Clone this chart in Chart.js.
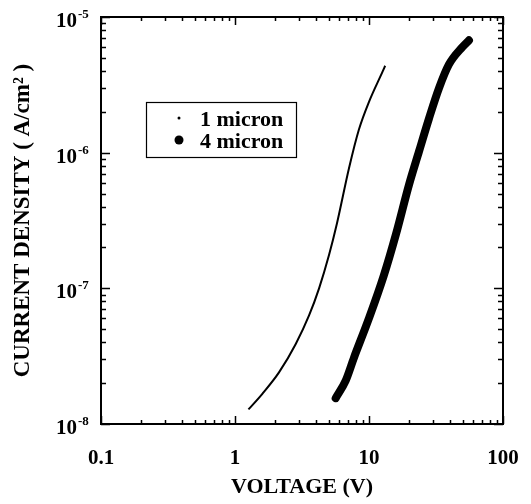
<!DOCTYPE html>
<html>
<head>
<meta charset="utf-8">
<script src="https://cdn.jsdelivr.net/npm/chart.js@4.4.1/dist/chart.umd.min.js"></script>
<style>
html,body{margin:0;padding:0;background:#fff;}
#wrap{width:531px;height:504px;}
</style>
</head>
<body>
<div id="wrap"><canvas id="ivChart" width="531" height="504"></canvas></div>
<script>
// ===== Data =====
const seriesNames = ['1 micron', '4 micron'];
const volt1 = [1.26, 1.6, 2.13, 2.84, 3.57, 4.24, 5.03, 5.77, 7.09, 8.41, 10.0, 12.6, 13.2];
const curr1 = [1.28e-8, 1.67e-8, 2.40e-8, 3.89e-8, 6.31e-8, 1.00e-7, 1.76e-7, 3.02e-7, 7.67e-7, 1.48e-6, 2.37e-6, 3.94e-6, 4.37e-6];
const volt4 = [5.64, 6.7, 7.73, 10.0, 12.9, 15.9, 19.9, 23.6, 28.0, 33.3, 39.5, 49.7, 55.7];
const curr4 = [1.55e-8, 2.09e-8, 3.09e-8, 6.03e-8, 1.245e-7, 2.51e-7, 5.82e-7, 1.02e-6, 1.78e-6, 2.99e-6, 4.47e-6, 6.0e-6, 6.73e-6];
const xTickVals = [0.1, 1, 10, 100];
const xTickLabels = ['0.1', '1', '10', '100'];
const yTickExp = [-8, -7, -6, -5];

const serif = "'Liberation Serif', 'Times New Roman', serif";

// ===== Frame, inward ticks, tick labels, legend =====
const decorPlugin = {
    id: 'decor',
    afterDraw(chart) {
        const c = chart.ctx;
        const a = chart.chartArea;
        const xs = chart.scales.x, ys = chart.scales.y;
        c.save();
        c.strokeStyle = '#000';
        c.fillStyle = '#000';

        // frame
        c.lineWidth = 2;
        c.strokeRect(a.left, a.top, a.right - a.left, a.bottom - a.top);

        // ticks on all four sides
        c.lineWidth = 1.5;
        c.beginPath();
        for (let k = -1; k <= 2; k++) {
            for (let m = 1; m <= 9; m++) {
                let v = m * Math.pow(10, k);
                if (v > 100.0001) continue;
                let px = Math.round(xs.getPixelForValue(v)) + 0.5;
                let len = m === 1 ? 8 : 4;
                c.moveTo(px, a.bottom); c.lineTo(px, a.bottom - len);
                c.moveTo(px, a.top); c.lineTo(px, a.top + len);
            }
        }
        for (let k = -8; k <= -5; k++) {
            for (let m = 1; m <= 9; m++) {
                let v = m * Math.pow(10, k);
                if (v > 1.00001e-5) continue;
                let py = Math.round(ys.getPixelForValue(v)) + 0.5;
                let len = m === 1 ? 9 : 5;
                c.moveTo(a.left, py); c.lineTo(a.left + len, py);
                c.moveTo(a.right, py); c.lineTo(a.right - len, py);
            }
        }
        c.stroke();

        // x tick labels
        c.textBaseline = 'alphabetic';
        c.font = 'bold 21px ' + serif;
        c.textAlign = 'center';
        xTickVals.forEach((v, i) => {
            c.fillText(xTickLabels[i], xs.getPixelForValue(v), a.bottom + 40);
        });

        // y tick labels 10^n
        yTickExp.forEach(e => {
            let py = ys.getPixelForValue(Math.pow(10, e));
            c.font = 'bold 21px ' + serif;
            c.textAlign = 'right';
            c.fillText('10', 77, py + 10);
            c.font = 'bold 13px ' + serif;
            c.textAlign = 'left';
            c.fillText('-' + Math.abs(e), 78, py + 1);
        });

        // legend
        c.lineWidth = 1.2;
        c.strokeRect(146.5, 102.5, 150, 55);
        c.beginPath();
        c.arc(179, 118, 1.5, 0, Math.PI * 2);
        c.fill();
        c.beginPath();
        c.arc(179, 140, 4.5, 0, Math.PI * 2);
        c.fill();
        c.font = 'bold 22px ' + serif;
        c.textAlign = 'left';
        c.fillText(seriesNames[0], 200, 126);
        c.fillText(seriesNames[1], 200, 148);
        c.restore();
    }
};

let ctx = document.getElementById('ivChart');
let ivChart = new Chart(ctx, {
    type: 'scatter',
    data: {
        datasets: [{
            label: seriesNames[0],
            data: volt1.map((v, i) => ({x: v, y: curr1[i]})),
            showLine: true,
            borderColor: '#000',
            backgroundColor: '#000',
            borderWidth: 2,
            pointRadius: 0,
            cubicInterpolationMode: 'monotone'
        }, {
            label: seriesNames[1],
            data: volt4.map((v, i) => ({x: v, y: curr4[i]})),
            showLine: true,
            borderColor: '#000',
            backgroundColor: '#000',
            borderWidth: 8,
            borderCapStyle: 'round',
            borderJoinStyle: 'round',
            pointRadius: 0,
            cubicInterpolationMode: 'monotone'
        }]
    },
    options: {
        responsive: false,
        animation: false,
        layout: {padding: {top: 17, right: 28, left: 0, bottom: 0}},
        plugins: {legend: {display: false}, tooltip: {enabled: false}},
        scales: {
            x: {
                type: 'logarithmic',
                min: 0.1, max: 100,
                border: {display: false},
                grid: {display: false},
                ticks: {display: false},
                title: {
                    display: true, text: 'VOLTAGE (V)', color: '#000',
                    font: {family: serif, weight: 'bold', size: 22},
                    padding: {top: 0, bottom: 3}
                },
                afterFit: (s) => { s.height = 80; }
            },
            y: {
                type: 'logarithmic',
                min: 1e-8, max: 1e-5,
                border: {display: false},
                grid: {display: false},
                ticks: {display: false},
                title: {
                    display: true, text: 'CURRENT DENSITY ( A/cm\u00B2 )', color: '#000',
                    font: {family: serif, weight: 'bold', size: 23},
                    padding: {top: 9, bottom: 0}
                },
                afterFit: (s) => { s.width = 101; }
            }
        }
    },
    plugins: [decorPlugin]
});
</script>
</body>
</html>
